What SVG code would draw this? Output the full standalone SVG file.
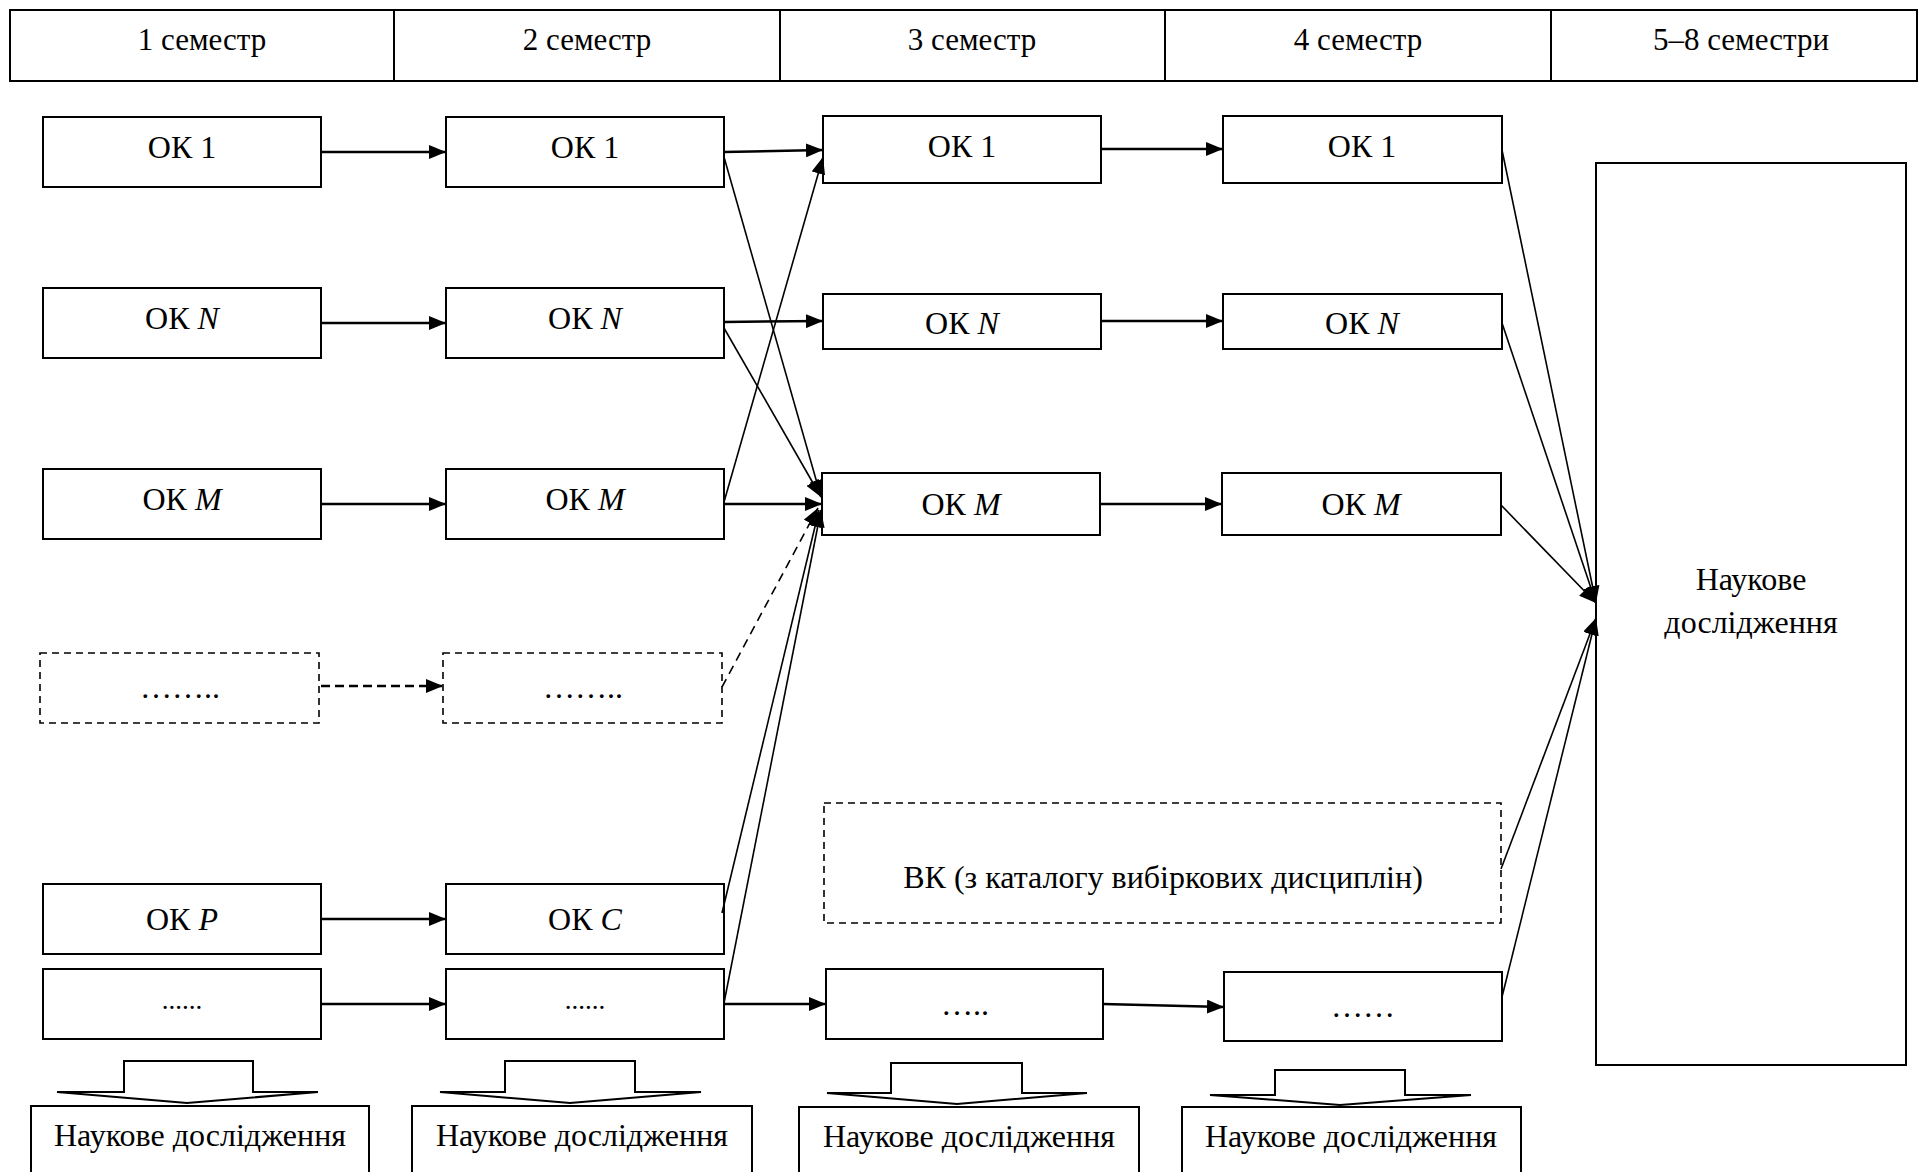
<svg xmlns="http://www.w3.org/2000/svg" width="1919" height="1172" viewBox="0 0 1919 1172">
<defs>
<marker id="ah" markerUnits="userSpaceOnUse" markerWidth="18" markerHeight="14" refX="17" refY="7" orient="auto">
<path d="M0,0 L17,7 L0,14 z" fill="#000"/>
</marker>
<style>
text{font-family:"Liberation Serif","Times New Roman",serif;font-size:32px;fill:#000;text-anchor:middle}
.hdr text{font-size:31px}
.b{fill:#fff;stroke:#000;stroke-width:2}
.d{fill:#fff;stroke:#000;stroke-width:1.6;stroke-dasharray:7 5}
.h{fill:none;stroke:#000;stroke-width:2.5;marker-end:url(#ah)}
.g{fill:none;stroke:#000;stroke-width:1.6;marker-end:url(#ah)}
.hd{fill:none;stroke:#000;stroke-width:2.5;stroke-dasharray:9 5;marker-end:url(#ah)}
.gd{fill:none;stroke:#000;stroke-width:1.6;stroke-dasharray:9 6;marker-end:url(#ah)}
.ba{fill:#fff;stroke:#000;stroke-width:2;stroke-linejoin:miter}
.it{font-style:italic}
.sm{font-size:27px}
</style>
</defs>
<rect width="1919" height="1172" fill="#fff"/>

<g id="header" class="hdr">
<rect class="b" x="10" y="10" width="1907" height="71"/>
<line x1="394" y1="10" x2="394" y2="81" stroke="#000" stroke-width="2"/>
<line x1="780" y1="10" x2="780" y2="81" stroke="#000" stroke-width="2"/>
<line x1="1165" y1="10" x2="1165" y2="81" stroke="#000" stroke-width="2"/>
<line x1="1551" y1="10" x2="1551" y2="81" stroke="#000" stroke-width="2"/>
<text x="202" y="50">1 семестр</text>
<text x="587" y="50">2 семестр</text>
<text x="972" y="50">3 семестр</text>
<text x="1358" y="50">4 семестр</text>
<text x="1741" y="50">5–8 семестри</text>
</g>

<g id="c1-ok1"><rect class="b" x="43" y="117" width="278" height="70"/><text x="182" y="158">ОК 1</text></g>
<g id="c1-okn"><rect class="b" x="43" y="288" width="278" height="70"/><text x="182" y="329">ОК <tspan class="it">N</tspan></text></g>
<g id="c1-okm"><rect class="b" x="43" y="469" width="278" height="70"/><text x="182" y="510">ОК <tspan class="it">M</tspan></text></g>
<g id="c1-dash"><rect class="d" x="40" y="653" width="279" height="70"/><text x="180" y="698">……..</text></g>
<g id="c1-okp"><rect class="b" x="43" y="884" width="278" height="70"/><text x="182" y="930">ОК <tspan class="it">P</tspan></text></g>
<g id="c1-more"><rect class="b" x="43" y="969" width="278" height="70"/><text class="sm" x="182" y="1009">......</text></g>

<g id="c2-ok1"><rect class="b" x="446" y="117" width="278" height="70"/><text x="585" y="158">ОК 1</text></g>
<g id="c2-okn"><rect class="b" x="446" y="288" width="278" height="70"/><text x="585" y="329">ОК <tspan class="it">N</tspan></text></g>
<g id="c2-okm"><rect class="b" x="446" y="469" width="278" height="70"/><text x="585" y="510">ОК <tspan class="it">M</tspan></text></g>
<g id="c2-dash"><rect class="d" x="443" y="653" width="279" height="70"/><text x="583" y="698">……..</text></g>
<g id="c2-okc"><rect class="b" x="446" y="884" width="278" height="70"/><text x="585" y="930">ОК <tspan class="it">C</tspan></text></g>
<g id="c2-more"><rect class="b" x="446" y="969" width="278" height="70"/><text class="sm" x="585" y="1009">......</text></g>

<g id="c3-ok1"><rect class="b" x="823" y="116" width="278" height="67"/><text x="962" y="157">ОК 1</text></g>
<g id="c3-okn"><rect class="b" x="823" y="294" width="278" height="55"/><text x="962" y="334">ОК <tspan class="it">N</tspan></text></g>
<g id="c3-okm"><rect class="b" x="822" y="473" width="278" height="62"/><text x="961" y="515">ОК <tspan class="it">M</tspan></text></g>
<g id="c3-vk"><rect class="d" x="824" y="803" width="677" height="120"/><text x="1163" y="888">ВК (з каталогу вибіркових дисциплін)</text></g>
<g id="c3-more"><rect class="b" x="826" y="969" width="277" height="70"/><text x="965" y="1015">…..</text></g>

<g id="c4-ok1"><rect class="b" x="1223" y="116" width="279" height="67"/><text x="1362" y="157">ОК 1</text></g>
<g id="c4-okn"><rect class="b" x="1223" y="294" width="279" height="55"/><text x="1362" y="334">ОК <tspan class="it">N</tspan></text></g>
<g id="c4-okm"><rect class="b" x="1222" y="473" width="279" height="62"/><text x="1361" y="515">ОК <tspan class="it">M</tspan></text></g>
<g id="c4-more"><rect class="b" x="1224" y="972" width="278" height="69"/><text x="1363" y="1017">……</text></g>

<g id="research-main"><rect class="b" x="1596" y="163" width="310" height="902"/><text x="1751" y="590">Наукове</text><text x="1751" y="633">дослідження</text></g>

<g id="research-1"><polygon class="ba" points="124,1061 253,1061 253,1092 318,1092 187,1103 57,1092 124,1092"/><rect class="b" x="31" y="1106" width="338" height="80"/><text x="200" y="1146">Наукове дослідження</text></g>
<g id="research-2"><polygon class="ba" points="505,1061 635,1061 635,1092 701,1092 570,1103 440,1092 505,1092"/><rect class="b" x="412" y="1106" width="340" height="80"/><text x="582" y="1146">Наукове дослідження</text></g>
<g id="research-3"><polygon class="ba" points="891,1063 1022,1063 1022,1093 1087,1093 957,1104 827,1093 891,1093"/><rect class="b" x="799" y="1107" width="340" height="80"/><text x="969" y="1147">Наукове дослідження</text></g>
<g id="research-4"><polygon class="ba" points="1275,1070 1405,1070 1405,1095 1471,1095 1340,1105 1210,1095 1275,1095"/><rect class="b" x="1182" y="1107" width="339" height="80"/><text x="1351" y="1147">Наукове дослідження</text></g>

<g id="connectors">
<line class="h" x1="321" y1="152" x2="446" y2="152"/>
<line class="h" x1="321" y1="323" x2="446" y2="323"/>
<line class="h" x1="321" y1="504" x2="446" y2="504"/>
<line class="hd" x1="321" y1="686" x2="443" y2="686"/>
<line class="h" x1="321" y1="919" x2="446" y2="919"/>
<line class="h" x1="321" y1="1004" x2="446" y2="1004"/>
<line class="h" x1="724" y1="152" x2="823" y2="150"/>
<line class="g" x1="724" y1="157" x2="821" y2="497"/>
<line class="h" x1="724" y1="322" x2="823" y2="321"/>
<line class="g" x1="724" y1="328" x2="821" y2="497"/>
<line class="g" x1="724" y1="502" x2="823" y2="157"/>
<line class="h" x1="724" y1="504" x2="822" y2="504"/>
<line class="gd" x1="722" y1="687" x2="818" y2="508"/>
<line class="g" x1="722" y1="913" x2="819" y2="510"/>
<line class="g" x1="724" y1="1003" x2="821" y2="510"/>
<line class="h" x1="724" y1="1004" x2="826" y2="1004"/>
<line class="h" x1="1101" y1="149" x2="1223" y2="149"/>
<line class="h" x1="1101" y1="321" x2="1223" y2="321"/>
<line class="h" x1="1100" y1="504" x2="1222" y2="504"/>
<line class="h" x1="1103" y1="1004" x2="1224" y2="1007"/>
<line class="g" x1="1502" y1="150" x2="1596" y2="603"/>
<line class="g" x1="1502" y1="323" x2="1596" y2="603"/>
<line class="g" x1="1501" y1="505" x2="1596" y2="603"/>
<line class="g" x1="1501" y1="869" x2="1596" y2="618"/>
<line class="g" x1="1502" y1="997" x2="1596" y2="618"/>
</g>
</svg>
